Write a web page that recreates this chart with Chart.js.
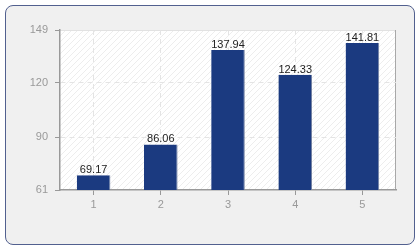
<!DOCTYPE html>
<html>
<head>
<meta charset="utf-8">
<script src="https://cdn.jsdelivr.net/npm/chart.js@4/dist/chart.umd.min.js"></script>
<style>
  body { margin: 0; width: 420px; height: 250px; overflow: hidden; background: #fff; }
  #frame {
    position: absolute; left: 5px; top: 5px; width: 408px; height: 238px;
    border: 1px solid #52608f; border-radius: 8px; background: #f0f0f0;
  }
  #wrap { position: absolute; left: 0; top: 0; width: 420px; height: 250px; }
</style>
</head>
<body>
<div id="frame"></div>
<div id="wrap"><canvas id="chart" width="420" height="250"></canvas></div>
<script>
const categories = ['1', '2', '3', '4', '5'];
const values = [69.17, 86.06, 137.94, 124.33, 141.81];
const yTicks = [61, 90, 120, 149];

const FONT = 'Liberation Sans, Arial, sans-serif';

// faint diagonal hatch for the plot background
const makeHatch = (ctx) => {
    const c = document.createElement('canvas');
    c.width = 6; c.height = 6;
    const p = c.getContext('2d');
    p.fillStyle = '#ffffff';
    p.fillRect(0, 0, 6, 6);
    p.strokeStyle = '#ededed';
    p.lineWidth = 1;
    p.beginPath();
    p.moveTo(-1, 7); p.lineTo(7, -1);
    p.stroke();
    return ctx.createPattern(c, 'repeat');
};

const plotBackground = {
    id: 'plotBackground',
    beforeDraw(chart) {
        const { ctx, chartArea: a } = chart;
        ctx.save();
        ctx.fillStyle = makeHatch(ctx);
        ctx.fillRect(a.left, a.top, a.right - a.left, a.bottom - a.top);
        ctx.strokeStyle = '#e2e2e2';
        ctx.lineWidth = 1;
        ctx.beginPath();
        ctx.moveTo(a.left, a.top + 0.5);
        ctx.lineTo(a.right, a.top + 0.5);
        ctx.stroke();
        ctx.strokeStyle = '#a8a8a8';
        ctx.beginPath();
        ctx.moveTo(a.right - 0.5, a.top);
        ctx.lineTo(a.right - 0.5, a.bottom);
        ctx.stroke();
        ctx.restore();
    }
};

const valueLabels = {
    id: 'valueLabels',
    afterDatasetsDraw(chart) {
        const { ctx } = chart;
        const meta = chart.getDatasetMeta(0);
        ctx.save();
        ctx.font = '11px ' + FONT;
        ctx.fillStyle = '#222';
        ctx.textAlign = 'center';
        ctx.textBaseline = 'alphabetic';
        meta.data.forEach((bar, i) => {
            ctx.fillText(values[i].toFixed(2), bar.x, bar.y - 2);
        });
        ctx.restore();
    }
};

new Chart(document.getElementById('chart'), {
    type: 'bar',
    data: {
        labels: categories,
        datasets: [{
            data: values,
            backgroundColor: '#1b3a80',
            borderColor: '#7482a3',
            borderWidth: { top: 0, left: 0, right: 1, bottom: 0 },
            borderSkipped: false,
            barPercentage: 0.5,
            categoryPercentage: 1
        }]
    },
    options: {
        responsive: false,
        animation: false,
        devicePixelRatio: 1,
        layout: { padding: { left: 0, right: 24, top: 30, bottom: 0 } },
        plugins: { legend: { display: false }, tooltip: { enabled: false } },
        scales: {
            x: {
                afterFit: (s) => { s.height = 60; },
                grid: {
                    offset: false,
                    color: '#e4e4e4',
                    tickColor: '#999',
                    tickLength: 5,
                    tickBorderDash: []
                },
                border: { color: '#999', width: 1.5, dash: [5, 4] },
                ticks: { color: '#999', padding: 3, font: { family: FONT, size: 11 } }
            },
            y: {
                min: 61,
                max: 149,
                afterFit: (s) => { s.width = 60; },
                afterBuildTicks: (s) => { s.ticks = yTicks.map(v => ({ value: v })); },
                grid: {
                    color: (c) => (c.tick && (c.tick.value === 61 || c.tick.value === 149)) ? 'rgba(0,0,0,0)' : '#e4e4e4',
                    tickColor: '#999',
                    tickLength: 5,
                    tickBorderDash: []
                },
                border: { color: '#999', width: 1.5, dash: [5, 4] },
                ticks: { color: '#999', padding: 7, font: { family: FONT, size: 11 } }
            }
        }
    },
    plugins: [plotBackground, valueLabels]
});
</script>
</body>
</html>
